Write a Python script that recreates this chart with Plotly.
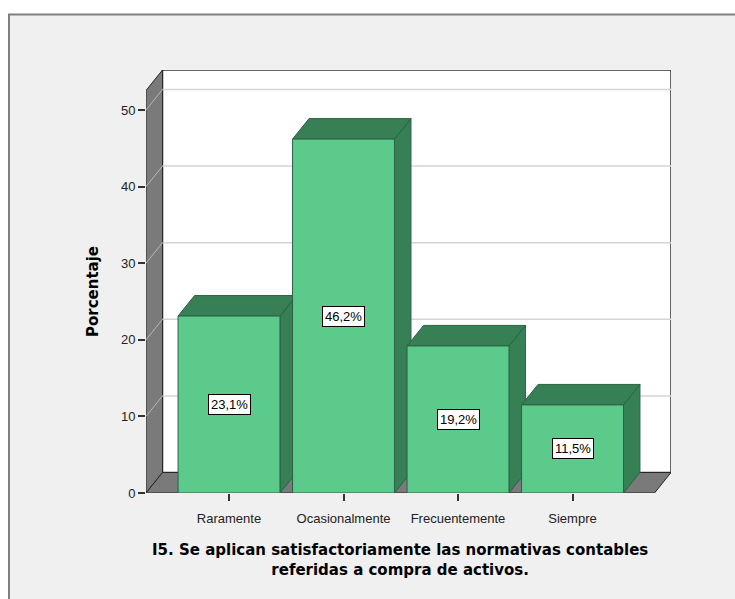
import plotly.graph_objects as go

categories = ["Raramente", "Ocasionalmente", "Frecuentemente", "Siempre"]
values = [23.1, 46.2, 19.2, 11.5]
labels = ["23,1%", "46,2%", "19,2%", "11,5%"]
y_ticks = [0, 10, 20, 30, 40, 50]
title_text = "I5. Se aplican satisfactoriamente las normativas contables<br>referidas a compra de activos."
y_title = "Porcentaje"

W, H = 735, 599
ML, MR, MT, MB = 146, 64, 70, 106
PW, PH = W - ML - MR, H - MT - MB
XR = [-0.725, -0.725 + PW / 114.5]
YR = [0, PH / 7.66]
DX = 16.5 * (XR[1] - XR[0]) / PW
DY = 20.5 * (YR[1] - YR[0]) / PH
BW = 0.89
XL = XR[0]
XF = XR[1] - DX  # front right edge of floor
YT = YR[1] - DY

FRONT = "#5bca8b"
DARK = "#378056"
EDGE = "#2c6244"
WALL = "#7a7a7a"
TICKFONT = dict(family="Liberation Sans, Arial", size=13, color="#222222")
BOLDFONT = "DejaVu Sans, Verdana, sans-serif"

fig = go.Figure()

shapes = []
# outer frame
shapes.append(dict(type="rect", xref="paper", yref="paper",
                   x0=(9 - ML) / PW, x1=(W + 20 - ML) / PW,
                   y0=-(MB + 20) / PH, y1=(H - MB - 14.5) / PH,
                   fillcolor="#f0f0f0", line=dict(color="#7f7f7f", width=2), layer="below"))
# back wall
shapes.append(dict(type="rect", xref="x", yref="y", x0=XL + DX, x1=XR[1], y0=DY, y1=YR[1],
                   fillcolor="white", line=dict(color="#333333", width=1.5), layer="below"))
# left wall
shapes.append(dict(type="path", xref="x", yref="y",
                   path=f"M {XL},0 L {XL},{YT} L {XL+DX},{YR[1]} L {XL+DX},{DY} Z",
                   fillcolor=WALL, line=dict(color="#262626", width=1), layer="below"))
# floor
shapes.append(dict(type="path", xref="x", yref="y",
                   path=f"M {XL},0 L {XF},0 L {XR[1]},{DY} L {XL+DX},{DY} Z",
                   fillcolor=WALL, line=dict(color="#262626", width=1), layer="below"))
# gridlines
for v in y_ticks[1:]:
    shapes.append(dict(type="line", xref="x", yref="y", x0=XL + DX, x1=XR[1], y0=v + DY, y1=v + DY,
                       line=dict(color="#d4d4d4", width=1.5), layer="below"))
    shapes.append(dict(type="line", xref="x", yref="y", x0=XL, x1=XL + DX, y0=v, y1=v + DY,
                       line=dict(color="#b8b8b8", width=1), layer="below"))

# bars (side, top, front) drawn left to right
for i, v in enumerate(values):
    x0, x1 = i - BW / 2, i + BW / 2
    fig.add_trace(go.Scatter(x=[x1, x1 + DX, x1 + DX, x1, x1], y=[0, DY, v + DY, v, 0],
                             mode="lines", fill="toself", fillcolor=DARK,
                             line=dict(color=EDGE, width=1), hoverinfo="skip", showlegend=False))
    fig.add_trace(go.Scatter(x=[x0, x0 + DX, x1 + DX, x1, x0], y=[v, v + DY, v + DY, v, v],
                             mode="lines", fill="toself", fillcolor=DARK,
                             line=dict(color=EDGE, width=1), hoverinfo="skip", showlegend=False))
    fig.add_trace(go.Scatter(x=[x0, x1, x1, x0, x0], y=[0, 0, v, v, 0],
                             mode="lines", fill="toself", fillcolor=FRONT,
                             line=dict(color=EDGE, width=1), hoverinfo="skip", showlegend=False))

annotations = []
for i, (v, t) in enumerate(zip(values, labels)):
    annotations.append(dict(x=i, y=v / 2, xref="x", yref="y", text=t, showarrow=False,
                            font=dict(family="Liberation Sans, Arial", size=13, color="black"),
                            bgcolor="white", bordercolor="black", borderwidth=1, borderpad=2))
annotations.append(dict(x=(93 - ML) / PW, y=(H - MB - 292) / PH, xref="paper", yref="paper",
                        xanchor="center", yanchor="middle",
                        text=f"<b>{y_title}</b>", textangle=-90, showarrow=False,
                        font=dict(family=BOLDFONT, size=15, color="black")))
annotations.append(dict(x=(400 - ML) / PW, y=(H - MB - 560) / PH, xref="paper", yref="paper",
                        xanchor="center", yanchor="middle",
                        text=f"<b>{title_text}</b>", showarrow=False,
                        font=dict(family=BOLDFONT, size=15, color="black")))

fig.update_layout(
    width=W, height=H, margin=dict(l=ML, r=MR, t=MT, b=MB),
    paper_bgcolor="white", plot_bgcolor="rgba(0,0,0,0)",
    shapes=shapes, annotations=annotations,
    xaxis=dict(range=XR, tickvals=list(range(len(categories))), ticktext=categories,
               ticks="outside", ticklen=7, tickcolor="#333333", tickwidth=1.5,
               ticklabelstandoff=6,
               showgrid=False, zeroline=False, showline=False, tickfont=TICKFONT),
    yaxis=dict(range=YR, tickvals=y_ticks, ticks="outside", ticklen=7, tickcolor="#333333",
               tickwidth=1.5, showgrid=False, zeroline=False, showline=False, tickfont=TICKFONT),
)

fig.write_html("out.html")
